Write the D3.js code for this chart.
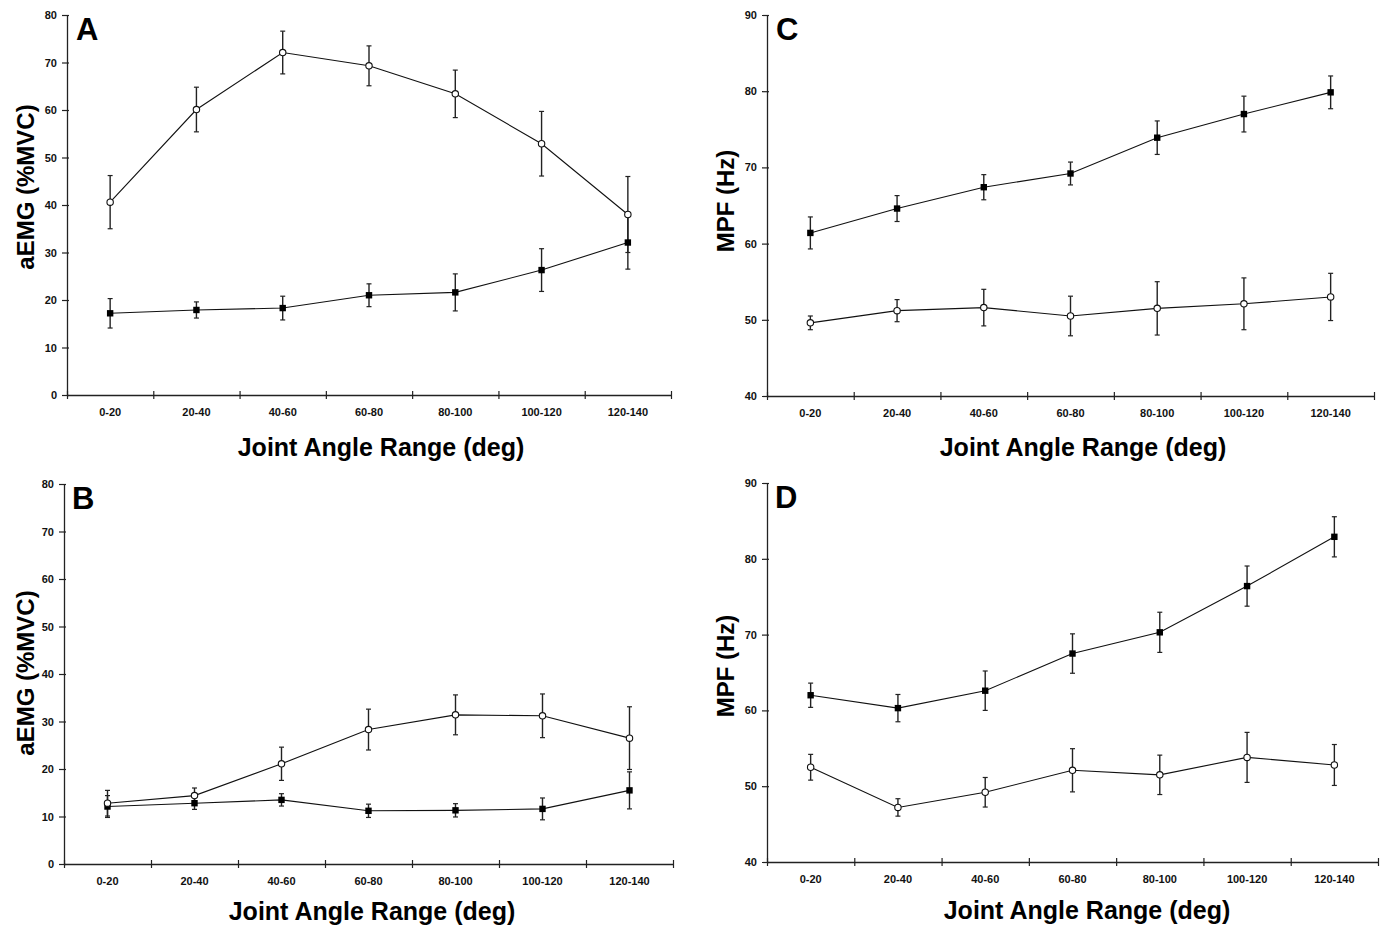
<!DOCTYPE html>
<html>
<head>
<meta charset="utf-8">
<script src="https://cdn.jsdelivr.net/npm/d3@7/dist/d3.min.js"></script>
<style>
  html, body { margin: 0; padding: 0; background: #fff; }
  svg { display: block; font-family: "Liberation Sans", Arial, Helvetica, sans-serif; }
</style>
</head>
<body>
<svg id="chart" width="1385" height="927"></svg>
<script>
// ---------- DATA ----------
const categories = ["0-20", "20-40", "40-60", "60-80", "80-100", "100-120", "120-140"];

const aemgTicks = [0, 10, 20, 30, 40, 50, 60, 70, 80];
const mpfTicks = [40, 50, 60, 70, 80, 90];

// Panel A (aEMG)
const aOpen      = [40.6, 60.1, 72.1, 69.3, 63.4, 52.9, 38.0];
const aOpenErr   = [5.6, 4.7, 4.5, 4.2, 5.0, 6.8, 8.0];
const aFilled    = [17.2, 17.9, 18.3, 21.0, 21.6, 26.3, 32.1];
const aFilledErr = [3.1, 1.7, 2.5, 2.4, 3.9, 4.5, 5.6];

// Panel B (aEMG)
const bOpen      = [12.8, 14.4, 21.1, 28.3, 31.4, 31.2, 26.5];
const bOpenErr   = [2.7, 1.6, 3.5, 4.3, 4.2, 4.6, 6.6];
const bFilled    = [12.1, 12.8, 13.5, 11.2, 11.3, 11.6, 15.5];
const bFilledErr = [2.3, 1.3, 1.3, 1.4, 1.4, 2.3, 3.9];

// Panel C (MPF)
const cOpen      = [49.6, 51.2, 51.6, 50.5, 51.5, 52.1, 53.0];
const cOpenErr   = [0.9, 1.45, 2.4, 2.6, 3.5, 3.4, 3.1];
const cFilled    = [61.4, 64.6, 67.4, 69.2, 73.9, 77.0, 79.85];
const cFilledErr = [2.1, 1.7, 1.65, 1.5, 2.2, 2.35, 2.15];

// Panel D (MPF)
const dOpen      = [52.5, 47.2, 49.2, 52.1, 51.5, 53.8, 52.8];
const dOpenErr   = [1.7, 1.15, 1.95, 2.85, 2.6, 3.3, 2.7];
const dFilled    = [62.0, 60.3, 62.6, 67.5, 70.3, 76.4, 82.9];
const dFilledErr = [1.6, 1.8, 2.6, 2.6, 2.65, 2.65, 2.65];

const xTitle = "Joint Angle Range (deg)";

// ---------- LAYOUT ----------
const panels = [
  { letter: "A", yTitle: "aEMG (%MVC)", ticks: aemgTicks, open: aOpen, openErr: aOpenErr, filled: aFilled, filledErr: aFilledErr,
    x0: 67, x1: 671, yTop: 15, yBot: 395, letterX: 76, letterY: 40, yTitleX: 34, yTitleY: 187, xTitleX: 381, xTitleY: 456 },
  { letter: "B", yTitle: "aEMG (%MVC)", ticks: aemgTicks, open: bOpen, openErr: bOpenErr, filled: bFilled, filledErr: bFilledErr,
    x0: 64, x1: 673, yTop: 484, yBot: 864, letterX: 72, letterY: 509, yTitleX: 34, yTitleY: 673, xTitleX: 372, xTitleY: 920 },
  { letter: "C", yTitle: "MPF (Hz)", ticks: mpfTicks, open: cOpen, openErr: cOpenErr, filled: cFilled, filledErr: cFilledErr,
    x0: 767, x1: 1374, yTop: 15, yBot: 396, letterX: 776, letterY: 40, yTitleX: 734, yTitleY: 201, xTitleX: 1083, xTitleY: 456 },
  { letter: "D", yTitle: "MPF (Hz)", ticks: mpfTicks, open: dOpen, openErr: dOpenErr, filled: dFilled, filledErr: dFilledErr,
    x0: 767, x1: 1378, yTop: 483, yBot: 862, letterX: 775, letterY: 508, yTitleX: 734, yTitleY: 666, xTitleX: 1087, xTitleY: 919 }
];

const svg = d3.select("#chart");
svg.append("rect").attr("width", 1385).attr("height", 927).attr("fill", "#fff");

panels.forEach(p => {
  const g = svg.append("g");
  const x = d3.scaleBand().domain(categories).range([p.x0, p.x1]).paddingInner(0).paddingOuter(0);
  const xb = d3.scaleLinear().domain([0, categories.length]).range([p.x0, p.x1]);
  const y = d3.scaleLinear().domain([d3.min(p.ticks), d3.max(p.ticks)]).range([p.yBot, p.yTop]);
  const cx = c => x(c) + x.bandwidth() / 2;

  // Y axis
  const ya = g.append("g").attr("transform", `translate(${p.x0},0)`)
    .call(d3.axisLeft(y).tickValues(p.ticks).tickSize(5).tickPadding(5).tickSizeOuter(0));
  ya.select(".domain").attr("stroke", "#222").attr("stroke-width", 1.3);
  ya.selectAll(".tick line").attr("x1", 2).attr("stroke", "#222").attr("stroke-width", 1.2);
  ya.selectAll(".tick text").attr("font-size", 11).attr("font-weight", "bold").attr("fill", "#111")
    .attr("font-family", "'Liberation Sans', Arial, sans-serif");

  // X axis boundary ticks
  const xa = g.append("g").attr("transform", `translate(0,${p.yBot})`)
    .call(d3.axisBottom(xb).tickValues(d3.range(0, categories.length + 1)).tickSize(4).tickFormat("").tickSizeOuter(0));
  xa.select(".domain").attr("stroke", "#222").attr("stroke-width", 1.3);
  xa.selectAll(".tick line").attr("y1", -4).attr("stroke", "#222").attr("stroke-width", 1.2);

  // X category labels
  const xl = g.append("g").attr("transform", `translate(0,${p.yBot})`)
    .call(d3.axisBottom(x).tickSize(0).tickPadding(13));
  xl.select(".domain").remove();
  xl.selectAll(".tick text").attr("font-size", 11).attr("font-weight", "bold").attr("fill", "#111")
    .attr("font-family", "'Liberation Sans', Arial, sans-serif");

  // Titles
  g.append("text").attr("x", p.letterX).attr("y", p.letterY)
    .attr("font-size", 31).attr("font-weight", "bold").attr("fill", "#000").text(p.letter);
  g.append("text").attr("transform", `translate(${p.yTitleX},${p.yTitleY}) rotate(-90)`)
    .attr("text-anchor", "middle").attr("font-size", 24).attr("font-weight", "bold").attr("fill", "#000").text(p.yTitle);
  g.append("text").attr("x", p.xTitleX).attr("y", p.xTitleY)
    .attr("text-anchor", "middle").attr("font-size", 25).attr("font-weight", "bold").attr("fill", "#000").text(xTitle);

  const series = [
    { vals: p.filled, err: p.filledErr, type: "square" },
    { vals: p.open, err: p.openErr, type: "circle" }
  ];
  const line = d3.line().x(d => cx(d.c)).y(d => y(d.v));

  series.forEach(s => {
    const pts = categories.map((c, i) => ({ c, v: s.vals[i], e: s.err[i] }));
    g.append("path").datum(pts).attr("d", line).attr("fill", "none").attr("stroke", "#111").attr("stroke-width", 1.1);
    const eb = g.append("g").selectAll("g").data(pts).join("g");
    eb.append("line").attr("x1", d => cx(d.c)).attr("x2", d => cx(d.c))
      .attr("y1", d => y(d.v + d.e)).attr("y2", d => y(d.v - d.e)).attr("stroke", "#222").attr("stroke-width", 1.4);
    [1, -1].forEach(sg => {
      eb.append("line").attr("x1", d => cx(d.c) - 2.5).attr("x2", d => cx(d.c) + 2.5)
        .attr("y1", d => y(d.v + sg * d.e)).attr("y2", d => y(d.v + sg * d.e)).attr("stroke", "#222").attr("stroke-width", 1.2);
    });
  });
  series.forEach(s => {
    const pts = categories.map((c, i) => ({ c, v: s.vals[i] }));
    if (s.type === "square") {
      g.append("g").selectAll("rect").data(pts).join("rect")
        .attr("x", d => cx(d.c) - 3.2).attr("y", d => y(d.v) - 3.2).attr("width", 6.4).attr("height", 6.4).attr("fill", "#000");
    } else {
      g.append("g").selectAll("circle").data(pts).join("circle")
        .attr("cx", d => cx(d.c)).attr("cy", d => y(d.v)).attr("r", 3.2)
        .attr("fill", "#fff").attr("stroke", "#111").attr("stroke-width", 1.1);
    }
  });
});
</script>
</body>
</html>
